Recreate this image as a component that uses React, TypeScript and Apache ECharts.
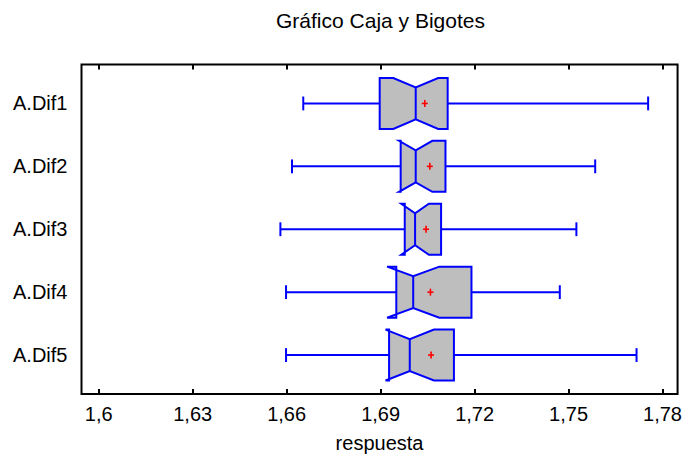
import React, { useEffect, useRef } from "react";
import * as echarts from "echarts";

const categories = ["A.Dif1", "A.Dif2", "A.Dif3", "A.Dif4", "A.Dif5"];
const lowerWhisker = [1.6653, 1.6617, 1.658, 1.6598, 1.6598];
const q1 = [1.6897, 1.6964, 1.6977, 1.695, 1.6927];
const median = [1.7012, 1.7012, 1.701, 1.7004, 1.6993];
const q3 = [1.7114, 1.7107, 1.7093, 1.719, 1.7134];
const upperWhisker = [1.7754, 1.7585, 1.7525, 1.7472, 1.7717];
const means = [1.7041, 1.7057, 1.7045, 1.7059, 1.7061];
const notchHalfWidth = [0.00716, 0.00531, 0.00441, 0.00834, 0.00773];
const xTicks = [1.6, 1.63, 1.66, 1.69, 1.72, 1.75, 1.78];

const FONT = "'Liberation Sans', Arial, Helvetica, sans-serif";
const BLUE = "#0000ff";

export default function App() {
  const ref = useRef<HTMLDivElement>(null);
  useEffect(() => {
    if (!ref.current) return;
    const chart = echarts.init(ref.current, null, { renderer: "svg" });
    const data = categories.map((_, i) => [
      i + 1,
      lowerWhisker[i],
      q1[i],
      median[i],
      q3[i],
      upperWhisker[i],
      means[i],
      notchHalfWidth[i],
    ]);
    const BOX_H = 0.405;
    const NOTCH_H = 0.254;
    const CAP_H = 0.11;
    const renderItem = (params: any, api: any) => {
      const c = api.value(0);
      const lo = api.value(1);
      const a = api.value(2);
      const m = api.value(3);
      const b = api.value(4);
      const hi = api.value(5);
      const mu = api.value(6);
      const n = api.value(7);
      const P = (x: number, y: number) => api.coord([x, y]);
      const lineStyle = { stroke: BLUE, lineWidth: 2, fill: null };
      const poly = [
        P(a, c - BOX_H),
        P(m - n, c - BOX_H),
        P(m, c - NOTCH_H),
        P(m + n, c - BOX_H),
        P(b, c - BOX_H),
        P(b, c + BOX_H),
        P(m + n, c + BOX_H),
        P(m, c + NOTCH_H),
        P(m - n, c + BOX_H),
        P(a, c + BOX_H),
      ];
      const mc = P(mu, c);
      const line = (p1: number[], p2: number[], style: any) => ({
        type: "line",
        shape: { x1: p1[0], y1: p1[1], x2: p2[0], y2: p2[1] },
        style,
      });
      return {
        type: "group",
        children: [
          line(P(lo, c), P(a, c), lineStyle),
          line(P(b, c), P(hi, c), lineStyle),
          line(P(lo, c - CAP_H), P(lo, c + CAP_H), lineStyle),
          line(P(hi, c - CAP_H), P(hi, c + CAP_H), lineStyle),
          {
            type: "polygon",
            shape: { points: poly },
            style: { fill: "#bebebe", stroke: BLUE, lineWidth: 2, lineJoin: "miter" },
          },
          line(P(m, c - NOTCH_H), P(m, c + NOTCH_H), lineStyle),
          line([mc[0] - 3, mc[1]], [mc[0] + 3, mc[1]], { stroke: "#ff0000", lineWidth: 1.6 }),
          line([mc[0], mc[1] - 3.5], [mc[0], mc[1] + 3.5], { stroke: "#ff0000", lineWidth: 1.6 }),
        ],
      };
    };
    const fmt = (v: number) => String(v).replace(".", ",");
    chart.setOption({
      animation: false,
      graphic: [
        {
          type: "text",
          x: 380.5,
          y: 20,
          style: {
            text: "Gráfico Caja y Bigotes",
            fontSize: 21,
            fontFamily: FONT,
            fill: "#000",
            textAlign: "center",
            textVerticalAlign: "middle",
          },
        },
      ],
      grid: {
        left: 81.5,
        right: 5.5,
        top: 64.5,
        bottom: 65,
        show: true,
        borderColor: "#000",
        borderWidth: 2,
        backgroundColor: "transparent",
      },
      xAxis: [
        {
          type: "value",
          min: 1.5945,
          max: 1.7848,
          position: "bottom",
          name: "respuesta",
          nameLocation: "middle",
          nameGap: 39,
          nameTextStyle: { fontSize: 20, fontFamily: FONT, color: "#000" },
          axisLine: { show: false },
          splitLine: { show: false },
          axisTick: {
            show: true,
            inside: true,
            length: 5,
            customValues: xTicks,
            lineStyle: { color: "#000", width: 2 },
          },
          axisLabel: {
            show: true,
            customValues: xTicks,
            formatter: fmt,
            fontSize: 20,
            fontFamily: FONT,
            color: "#000",
            margin: 10,
            showMinLabel: true,
            showMaxLabel: true,
          },
        },
        {
          type: "value",
          min: 1.5945,
          max: 1.7848,
          position: "top",
          axisLine: { show: false },
          splitLine: { show: false },
          axisTick: {
            show: true,
            inside: true,
            length: 5,
            customValues: xTicks,
            lineStyle: { color: "#000", width: 2 },
          },
          axisLabel: { show: false },
        },
      ],
      yAxis: {
        type: "value",
        min: 0.381,
        max: 5.619,
        inverse: true,
        axisLine: { show: false },
        splitLine: { show: false },
        axisTick: { show: false },
        axisLabel: {
          customValues: [1, 2, 3, 4, 5],
          formatter: (v: number) => categories[Math.round(v) - 1] ?? "",
          fontSize: 20,
          fontFamily: FONT,
          color: "#000",
          margin: 14,
        },
      },
      series: [
        {
          type: "custom",
          renderItem,
          data,
          xAxisIndex: 0,
          yAxisIndex: 0,
          encode: { x: [1, 2, 3, 4, 5, 6], y: 0 },
          clip: false,
        },
      ],
    });
    return () => chart.dispose();
  }, []);
  return (
    <div
      ref={ref}
      style={{ position: "absolute", left: 0, top: 0, width: 685, height: 459 }}
    />
  );
}
